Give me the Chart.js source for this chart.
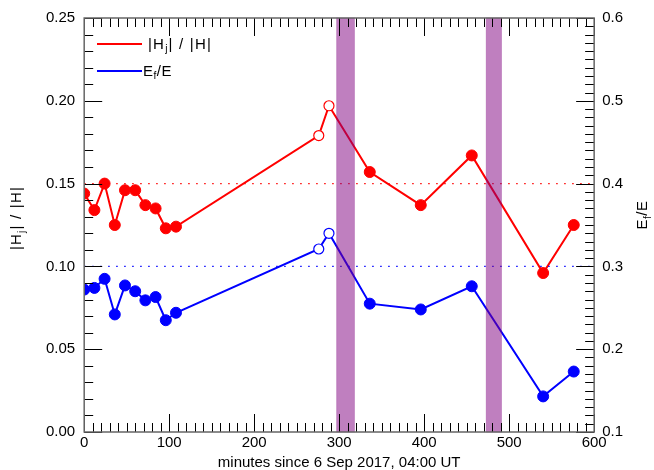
<!DOCTYPE html>
<html>
<head>
<meta charset="utf-8">
<script src="https://cdn.jsdelivr.net/npm/chart.js@4"></script>
<style>
  html, body { margin: 0; padding: 0; background: #fff; }
  #wrap { width: 654px; height: 470px; }
</style>
</head>
<body>
<div id="wrap"><canvas id="lineChart" width="654" height="470"></canvas></div>
<script>
// values
const minutes = [0, 12, 24, 36, 48, 60, 72, 84, 96, 108, 276, 288, 336, 396, 456, 540, 576];
const hRatio = [0.144, 0.134, 0.150, 0.125, 0.146, 0.146, 0.137, 0.135, 0.123, 0.124, 0.179, 0.197, 0.157, 0.137, 0.167, 0.096, 0.125];
const eRatio = [0.272, 0.274, 0.285, 0.242, 0.277, 0.270, 0.259, 0.263, 0.235, 0.244, 0.321, 0.340, 0.255, 0.248, 0.276, 0.143, 0.173];
const openPoints = [10, 11];
const bands = [[297, 318], [473, 491]];
const hLevel = 0.15;
const eLevel = 0.30;
const xTicks = [0, 100, 200, 300, 400, 500, 600];

const FONT = 'Liberation Sans, Arial, Helvetica, sans-serif';

function pts(vals) {
    return minutes.map((m, i) => ({ x: m, y: vals[i] }));
}

function pointFill(color) {
    return minutes.map((m, i) => openPoints.includes(i) ? '#ffffff' : color);
}

function pointBorderW() {
    return minutes.map((m, i) => openPoints.includes(i) ? 1.2 : 1);
}

function pointRad() {
    return minutes.map((m, i) => openPoints.includes(i) ? 5 : 5.5);
}

// text with a subscript part: parts = [[text, isSub], ...]
function subWidth(ctx, parts, size, spacing) {
    let w = 0;
    ctx.letterSpacing = spacing + 'px';
    parts.forEach(p => {
        ctx.font = (p[1] ? size * 0.68 : size) + 'px ' + FONT;
        w += ctx.measureText(p[0]).width;
    });
    return w;
}

function drawSub(ctx, parts, x, y, size, spacing) {
    let cx = x;
    ctx.letterSpacing = spacing + 'px';
    parts.forEach(p => {
        ctx.font = (p[1] ? size * 0.68 : size) + 'px ' + FONT;
        ctx.fillText(p[0], cx, p[1] ? y + 4 : y);
        cx += ctx.measureText(p[0]).width;
    });
    ctx.letterSpacing = '0px';
}

const hLabel = [['|H', false], ['j', true], ['| / |H|', false]];
const eLabel = [['E', false], ['f', true], ['/E', false]];

const decorate = {
    id: 'decorate',
    afterDatasetsDraw(chart) {
        const { ctx, chartArea: a, scales } = chart;
        const x = scales.x, y = scales.y, y1 = scales.y1;
        ctx.save();

        // shaded intervals
        ctx.fillStyle = 'rgba(128, 0, 128, 0.5)';
        ctx.strokeStyle = 'rgba(128, 0, 128, 0.25)';
        ctx.lineWidth = 1;
        bands.forEach(b => {
            const x0 = x.getPixelForValue(b[0]);
            const x1 = x.getPixelForValue(b[1]);
            ctx.fillRect(x0, a.top, x1 - x0, a.bottom - a.top);
            ctx.strokeRect(x0, a.top, x1 - x0, a.bottom - a.top);
        });

        // inward ticks
        ctx.strokeStyle = '#000';
        ctx.lineWidth = 1;
        ctx.beginPath();
        for (let m = 0; m <= 600; m += 10) {
            const px = Math.round(x.getPixelForValue(m)) + 0.5;
            const len = m % 100 === 0 ? 18 : 9;
            ctx.moveTo(px, a.bottom); ctx.lineTo(px, a.bottom - len);
            ctx.moveTo(px, a.top); ctx.lineTo(px, a.top + len);
        }
        for (let k = 0; k <= 25; k++) {
            const py = Math.round(y.getPixelForValue(k / 100)) + 0.5;
            const len = k % 5 === 0 ? 18 : 9;
            ctx.moveTo(a.left, py); ctx.lineTo(a.left + len, py);
        }
        for (let k = 10; k <= 60; k++) {
            const py = Math.round(y1.getPixelForValue(k / 100)) + 0.5;
            const len = k % 10 === 0 ? 18 : 9;
            ctx.moveTo(a.right, py); ctx.lineTo(a.right - len, py);
        }
        ctx.stroke();

        // frame
        ctx.strokeStyle = '#666';
        ctx.lineWidth = 1.5;
        ctx.strokeRect(a.left, a.top, a.right - a.left, a.bottom - a.top);

        // legend
        ctx.fillStyle = '#000';
        ctx.textBaseline = 'middle';
        ctx.textAlign = 'left';
        ctx.lineWidth = 2;
        ctx.strokeStyle = '#ff0000';
        ctx.beginPath(); ctx.moveTo(97, 44); ctx.lineTo(142, 44); ctx.stroke();
        drawSub(ctx, hLabel, 148, 45, 15, 1.2);
        ctx.strokeStyle = '#0000ff';
        ctx.beginPath(); ctx.moveTo(97, 71); ctx.lineTo(142, 71); ctx.stroke();
        drawSub(ctx, eLabel, 143, 72, 15, 0.5);

        // axis titles
        ctx.textBaseline = 'alphabetic';
        let w = subWidth(ctx, hLabel, 15, 1.2);
        ctx.save();
        ctx.translate(21, 218);
        ctx.rotate(-Math.PI / 2);
        drawSub(ctx, hLabel, -w / 2, 0, 15, 1.2);
        ctx.restore();

        w = subWidth(ctx, eLabel, 15, 0.5);
        ctx.save();
        ctx.translate(647, 215);
        ctx.rotate(-Math.PI / 2);
        drawSub(ctx, eLabel, -w / 2, 0, 15, 0.5);
        ctx.restore();

        ctx.restore();
    }
};

const ctx = document.getElementById('lineChart').getContext('2d');

new Chart(ctx, {
    type: 'line',
    data: {
        datasets: [
            {
                data: [{ x: 0, y: hLevel }, { x: 600, y: hLevel }],
                yAxisID: 'y',
                borderColor: '#ff0000',
                borderWidth: 1.2,
                borderDash: [1.5, 6.5],
                pointRadius: 0
            },
            {
                data: [{ x: 0, y: eLevel }, { x: 600, y: eLevel }],
                yAxisID: 'y1',
                borderColor: '#0000ff',
                borderWidth: 1.2,
                borderDash: [1.5, 6.5],
                pointRadius: 0
            },
            {
                label: '|Hj|/|H|',
                data: pts(hRatio),
                yAxisID: 'y',
                borderColor: '#ff0000',
                borderWidth: 2,
                pointBackgroundColor: pointFill('#ff0000'),
                pointBorderColor: '#ff0000',
                pointBorderWidth: pointBorderW(),
                pointRadius: pointRad(),
                tension: 0,
                clip: 0
            },
            {
                label: 'Ef/E',
                data: pts(eRatio),
                yAxisID: 'y1',
                borderColor: '#0000ff',
                borderWidth: 2,
                pointBackgroundColor: pointFill('#0000ff'),
                pointBorderColor: '#0000ff',
                pointBorderWidth: pointBorderW(),
                pointRadius: pointRad(),
                tension: 0,
                clip: 0
            }
        ]
    },
    options: {
        responsive: false,
        animation: false,
        layout: { padding: { left: 37, right: 23, top: 17, bottom: 0 } },
        plugins: {
            legend: { display: false },
            tooltip: { enabled: false }
        },
        scales: {
            x: {
                type: 'linear',
                position: 'bottom',
                min: 0,
                max: 600,
                afterBuildTicks: axis => { axis.ticks = xTicks.map(v => ({ value: v })); },
                grid: { display: false, drawTicks: false },
                border: { display: false },
                ticks: { color: '#000', font: { family: FONT, size: 15, lineHeight: 1 }, padding: 3, maxRotation: 0 },
                title: {
                    display: true,
                    text: 'minutes since 6 Sep 2017, 04:00 UT',
                    color: '#000',
                    font: { family: FONT, size: 15, lineHeight: 1 },
                    padding: { top: 2, bottom: 0 }
                }
            },
            y: {
                position: 'left',
                min: 0,
                max: 0.25,
                grid: { display: false, drawTicks: false },
                border: { display: false },
                ticks: {
                    stepSize: 0.05,
                    color: '#000',
                    font: { family: FONT, size: 15 },
                    padding: 9,
                    callback: v => v.toFixed(2)
                }
            },
            y1: {
                position: 'right',
                min: 0.1,
                max: 0.6,
                grid: { display: false, drawTicks: false },
                border: { display: false },
                ticks: {
                    stepSize: 0.1,
                    color: '#000',
                    font: { family: FONT, size: 15 },
                    padding: 8,
                    callback: v => v.toFixed(1)
                }
            }
        }
    },
    plugins: [decorate]
});
</script>
</body>
</html>
